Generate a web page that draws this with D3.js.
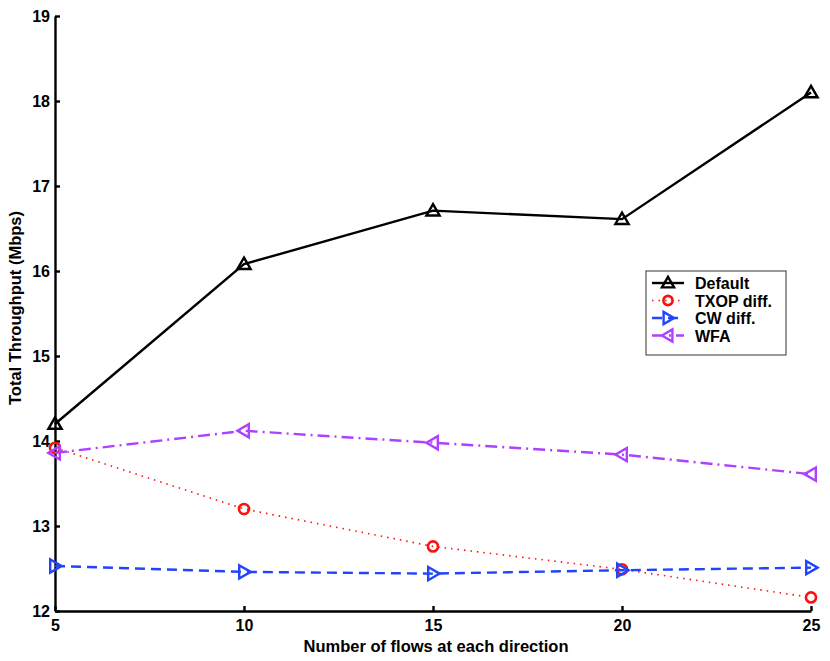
<!DOCTYPE html>
<html>
<head>
<meta charset="utf-8">
<script src="https://cdn.jsdelivr.net/npm/d3@7/dist/d3.min.js"></script>
<style>
body { margin: 0; background: #fff; }
text { font-family: "Liberation Sans", Arial, sans-serif; font-weight: bold; }
</style>
</head>
<body>
<svg width="830" height="661"></svg>
<script>
var flows = [5, 10, 15, 20, 25];
var defaultVals = [14.2, 16.08, 16.71, 16.61, 18.1];
var txopVals = [13.92, 13.2, 12.76, 12.49, 12.16];
var cwVals = [12.53, 12.46, 12.44, 12.48, 12.51];
var wfaVals = [13.86, 14.12, 13.98, 13.84, 13.61];
var yTicks = [12, 13, 14, 15, 16, 17, 18, 19];
var xTicks = [5, 10, 15, 20, 25];

var svg = d3.select("svg")
    , margin = {left: 55, right: 19, top: 16, bottom: 50}
    , width = 830 - margin.left - margin.right
    , height = 661 - margin.top - margin.bottom
    , g = svg.append("g").attr("transform", "translate(" + margin.left + "," + margin.top + ")");

var x = d3.scaleLinear().domain([5, 25]).range([0, width]);
var y = d3.scaleLinear().domain([12, 19]).range([height, 0]);

var series = [
    {name: "Default", values: defaultVals, color: "#000000", dash: null, width: 2.4, marker: "up"},
    {name: "TXOP diff.", values: txopVals, color: "#ff1010", dash: "1.5,5", width: 1.6, marker: "circle"},
    {name: "CW diff.", values: cwVals, color: "#2244ff", dash: "10,6", width: 2.4, marker: "right"},
    {name: "WFA", values: wfaVals, color: "#b040ff", dash: "12,5,2,5", width: 2.4, marker: "left"}
];

// axes: only left and bottom, ticks inward
var xAxis = d3.axisBottom(x).tickValues(xTicks).tickFormat(d3.format("d"))
    .tickSizeInner(-5).tickSizeOuter(0).tickPadding(9);
var yAxis = d3.axisLeft(y).tickValues(yTicks).tickFormat(d3.format("d"))
    .tickSizeInner(-5).tickSizeOuter(0).tickPadding(5);

var gx = g.append("g").attr("transform", "translate(0," + height + ")").call(xAxis);
var gy = g.append("g").call(yAxis);
[gx, gy].forEach(function (a) {
    a.select(".domain").attr("stroke", "#000").attr("stroke-width", 2.4);
    a.selectAll(".tick line").attr("stroke", "#000").attr("stroke-width", 2.4);
    a.selectAll(".tick text").attr("fill", "#000").style("font-size", "16px").style("font-weight", "bold");
});

var line = d3.line()
    .x(function (d, i) { return x(flows[i]); })
    .y(function (d) { return y(d); });

function drawMarker(sel, type, color, s) {
    if (type === "circle") {
        sel.append("circle").attr("r", s * 0.42).attr("fill", "none")
            .attr("stroke", color).attr("stroke-width", 2.6);
        return;
    }
    var pts;
    if (type === "up") pts = [[0, -s * 0.55], [s * 0.55, s * 0.4], [-s * 0.55, s * 0.4]];
    if (type === "right") pts = [[s * 0.55, 0], [-s * 0.4, -s * 0.55], [-s * 0.4, s * 0.55]];
    if (type === "left") pts = [[-s * 0.55, 0], [s * 0.4, -s * 0.55], [s * 0.4, s * 0.55]];
    sel.append("polygon").attr("points", pts.map(function (p) { return p.join(","); }).join(" "))
        .attr("fill", "none").attr("stroke", color).attr("stroke-width", 2.4);
}

series.forEach(function (s) {
    g.append("path").datum(s.values).attr("d", line)
        .attr("fill", "none").attr("stroke", s.color)
        .attr("stroke-width", s.width)
        .attr("stroke-dasharray", s.dash);
    s.values.forEach(function (v, i) {
        var m = g.append("g").attr("transform", "translate(" + x(flows[i]) + "," + y(v) + ")");
        drawMarker(m, s.marker, s.color, 12);
    });
});

// legend
var lg = svg.append("g").attr("transform", "translate(646,271)");
lg.append("rect").attr("width", 140).attr("height", 84)
    .attr("fill", "#fff").attr("stroke", "#333").attr("stroke-width", 1);
series.forEach(function (s, i) {
    var yy = 12 + i * 17.5;
    lg.append("line").attr("x1", 6).attr("x2", 38).attr("y1", yy).attr("y2", yy)
        .attr("stroke", s.color).attr("stroke-width", s.width)
        .attr("stroke-dasharray", s.dash);
    var m = lg.append("g").attr("transform", "translate(22," + yy + ")");
    drawMarker(m, s.marker, s.color, 11);
    lg.append("text").attr("x", 49).attr("y", yy + 6).style("font-size", "16px").text(s.name);
});

// axis labels
svg.append("text").attr("x", 436).attr("y", 652)
    .attr("text-anchor", "middle").style("font-size", "16.5px")
    .text("Number of flows at each direction");
svg.append("text").attr("transform", "translate(21,308) rotate(-90)")
    .attr("text-anchor", "middle").style("font-size", "16.5px")
    .text("Total Throughput (Mbps)");
</script>
</body>
</html>
